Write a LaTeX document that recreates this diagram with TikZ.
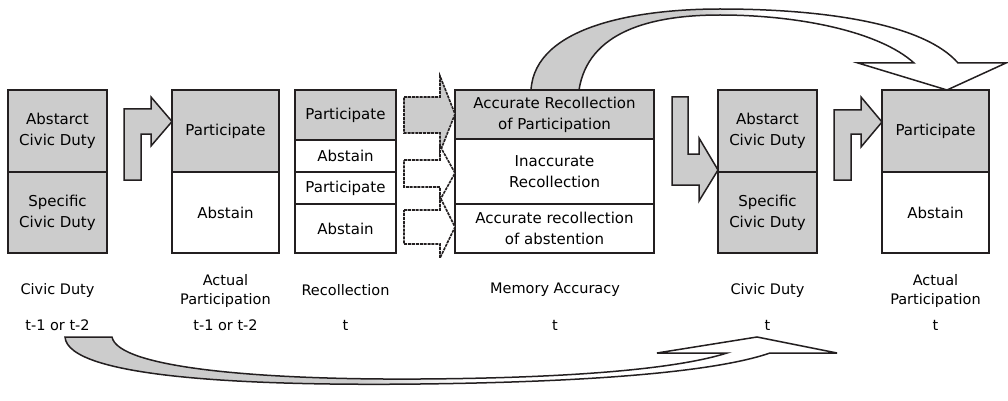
\documentclass[tikz,border=0pt]{standalone}
\usepackage{fontspec}
\setmainfont{DejaVu Sans}
\definecolor{boxgray}{RGB}{204,204,204}
\definecolor{ink}{RGB}{35,31,32}
\begin{document}
\begin{tikzpicture}[x=1pt,y=-1pt,
  cell/.style={draw=ink, line width=1.8pt, inner sep=0pt, align=center, font=\fontsize{15}{21}\selectfont},
  gcell/.style={cell, fill=boxgray},
  lab/.style={align=center, inner sep=0pt, font=\fontsize{14.5}{19}\selectfont},
  blk/.style={draw=ink, line width=1.5pt, fill=boxgray, line join=miter},
  dblk/.style={draw=ink, line width=1.6pt, dash pattern=on 3pt off 0.9pt, line join=miter},
  toppath/.style={insert path={(531,90) .. controls (535,25) and (640,9) .. (720,9) .. controls (830,9) and (925,25) .. (958,63) -- (1006,63) -- (947,90) -- (858,63) -- (914,63) .. controls (880,32) and (800,15) .. (720,15) .. controls (650,15) and (588,32) .. (579,90) -- cycle}},
  botpath/.style={insert path={(65,337) .. controls (68,378) and (250,386) .. (420,384) .. controls (590,382) and (715,372) .. (770,353) -- (837,353) -- (757,337) -- (657,353) -- (727,353) .. controls (680,368) and (580,378) .. (420,379) .. controls (260,380) and (118,368) .. (112,337) -- cycle}}]
\useasboundingbox (0,0) rectangle (1008,401);

% top curved arrow
\fill[white,toppath];
\begin{scope}
  \clip[toppath];
  \fill[boxgray] (500,0) rectangle (700,100);
  \shade[left color=boxgray, right color=white] (700,0) rectangle (760,100);
\end{scope}
\draw[draw=ink, line width=1.5pt, line join=miter, toppath];

% bottom curved arrow
\fill[white,botpath];
\begin{scope}
  \clip[botpath];
  \fill[boxgray] (0,330) rectangle (360,401);
  \shade[left color=boxgray, right color=white] (360,330) rectangle (470,401);
\end{scope}
\draw[draw=ink, line width=1.5pt, line join=miter, botpath];

% column 1: civic duty (t-1 or t-2)
\node[gcell, minimum width=99pt, minimum height=82pt] (b1a) at (57.5,131) {Abstarct\\Civic Duty};
\node[gcell, minimum width=99pt, minimum height=81pt] (b1b) at (57.5,212.5) {Specific\\Civic Duty};

% column 2: actual participation
\node[gcell, minimum width=107pt, minimum height=82pt] (b2a) at (225.5,131) {Participate};
\node[cell, minimum width=107pt, minimum height=81pt] (b2b) at (225.5,212.5) {Abstain};

% column 3: recollection
\node[gcell, minimum width=101pt, minimum height=50pt] (b3a) at (345.5,115) {Participate};
\node[cell, minimum width=101pt, minimum height=32pt] (b3b) at (345.5,156) {Abstain};
\node[cell, minimum width=101pt, minimum height=32pt] (b3c) at (345.5,188) {Participate};
\node[cell, minimum width=101pt, minimum height=49pt] (b3d) at (345.5,228.5) {Abstain};

% column 4: memory accuracy
\node[gcell, minimum width=199pt, minimum height=49pt] (b4a) at (554.5,114.5) {Accurate Recollection\\of Participation};
\node[cell, minimum width=199pt, minimum height=65pt] (b4b) at (554.5,171.5) {Inaccurate\\Recollection};
\node[cell, minimum width=199pt, minimum height=49pt] (b4c) at (554.5,228.5) {Accurate recollection\\of abstention};

% column 5: civic duty t
\node[gcell, minimum width=99pt, minimum height=82pt] (b5a) at (767.5,131) {Abstarct\\Civic Duty};
\node[gcell, minimum width=99pt, minimum height=81pt] (b5b) at (767.5,212.5) {Specific\\Civic Duty};

% column 6: actual participation t
\node[gcell, minimum width=107pt, minimum height=82pt] (b6a) at (935.5,131) {Participate};
\node[cell, minimum width=107pt, minimum height=81pt] (b6b) at (935.5,212.5) {Abstain};

% bent block arrows
\draw[blk] (124,180) -- (124,109) -- (151,109) -- (151,97) -- (172,121.5) -- (151,146) -- (151,134) -- (141,134) -- (141,180) -- cycle;
\draw[blk] (834,180) -- (834,110) -- (861,110) -- (861,97) -- (882,122) -- (861,147) -- (861,134) -- (851,134) -- (851,180) -- cycle;
\draw[blk] (672,97) -- (688,97) -- (688,154) -- (699,154) -- (699,138) -- (718,170) -- (699,201) -- (699,185) -- (672,185) -- cycle;

% dashed block arrows
\draw[dblk, fill=boxgray] (404,97) -- (440,97) -- (440,76) -- (455,114) -- (440,152) -- (440,133) -- (404,133) -- cycle;
\draw[dblk, fill=white] (404,160) -- (440,160) -- (440,146) -- (455,173) -- (440,200) -- (440,187) -- (404,187) -- cycle;
\draw[dblk, fill=white] (404,210) -- (440,210) -- (440,197) -- (455,227) -- (440,258) -- (440,244) -- (404,244) -- cycle;

% labels
\node[lab] (l1) at (57.5,290) {Civic Duty};
\node[lab] (l2) at (225.5,291) {Actual\\Participation};
\node[lab] (l3) at (345.5,290) {Recollection};
\node[lab] (l4) at (555,290) {Memory Accuracy};
\node[lab] (l5) at (767.5,290) {Civic Duty};
\node[lab] (l6) at (935.5,291) {Actual\\Participation};
\node[lab] (t1) at (57.5,325) {t-1 or t-2};
\node[lab] (t2) at (225.5,325) {t-1 or t-2};
\node[lab] (t3) at (345.5,325) {t};
\node[lab] (t4) at (555,325) {t};
\node[lab] (t5) at (767.5,325) {t};
\node[lab] (t6) at (935.5,325) {t};
\end{tikzpicture}
\end{document}
